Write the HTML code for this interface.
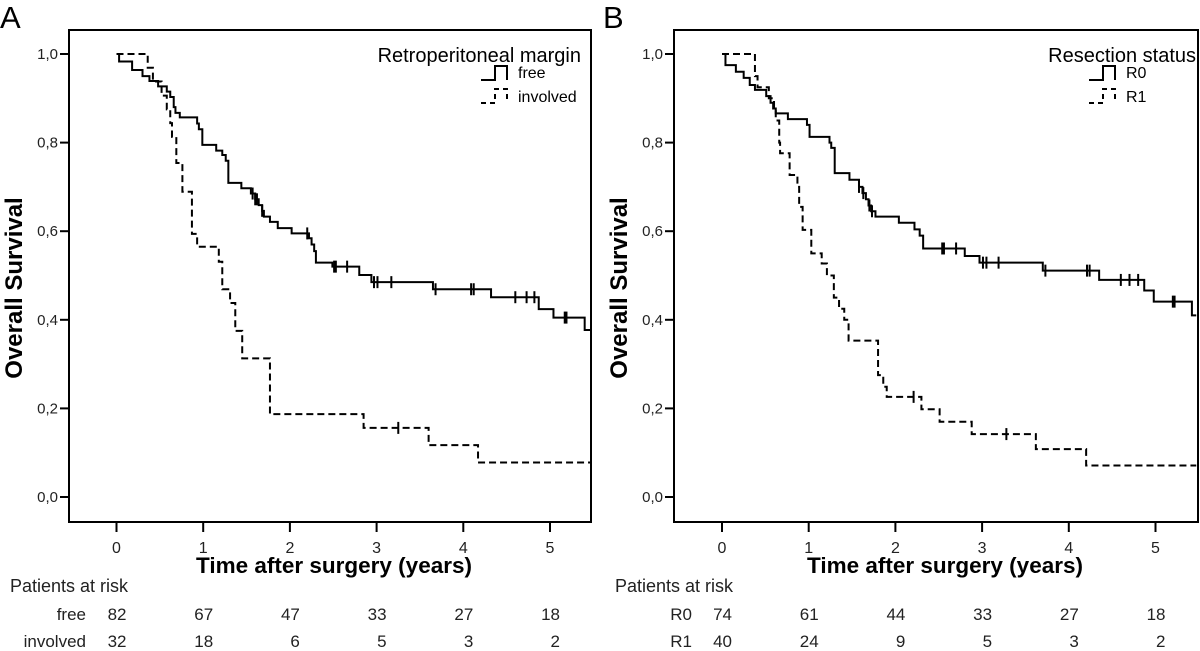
<!DOCTYPE html>
<html><head><meta charset="utf-8"><style>
html,body{margin:0;padding:0;background:#fff;}
svg{display:block;font-family:"Liberation Sans",Arial,sans-serif;}
</style></head><body>
<svg id="chart" width="1200" height="651" viewBox="0 0 1200 651" xmlns="http://www.w3.org/2000/svg"></svg>
<script>
// ---- Panel A data ----
const freeT = [0.03,0.18,0.30,0.38,0.48,0.58,0.62,0.66,0.68,0.73,0.93,0.95,0.99,1.15,1.22,1.26,1.29,1.44,1.55,1.60,1.64,1.68,1.70,1.77,1.86,2.02,2.22,2.25,2.28,2.30,2.49,2.80,2.94,3.65,4.32,4.87,5.04,5.40];
const freeS = [0.983,0.964,0.950,0.939,0.927,0.915,0.903,0.88,0.867,0.857,0.843,0.83,0.795,0.782,0.772,0.759,0.709,0.697,0.685,0.672,0.659,0.646,0.633,0.621,0.607,0.595,0.584,0.57,0.555,0.529,0.520,0.501,0.485,0.469,0.451,0.424,0.405,0.377];
const freeCens = [1.57,1.60,1.62,1.68,2.20,2.51,2.53,2.66,2.97,3.01,3.17,3.68,4.09,4.12,4.60,4.73,4.82,5.17,5.19];
const invT = [0.36,0.42,0.52,0.58,0.62,0.64,0.69,0.76,0.87,0.93,1.18,1.22,1.31,1.37,1.45,1.77,2.85,3.60,4.17];
const invS = [0.969,0.938,0.906,0.875,0.844,0.813,0.754,0.689,0.594,0.565,0.531,0.469,0.438,0.375,0.313,0.187,0.156,0.117,0.078];
const invCens = [3.25];
const riskTicks = [0,1,2,3,4,5];
const riskFree = [82,67,47,33,27,18];
const riskInv = [32,18,6,5,3,2];
// ---- Panel B data ----
const r0T = [0.04,0.16,0.25,0.32,0.38,0.51,0.56,0.59,0.62,0.76,0.98,1.01,1.24,1.26,1.30,1.47,1.58,1.62,1.66,1.69,1.72,1.77,2.04,2.22,2.28,2.32,2.80,2.97,3.70,4.35,4.87,4.98,5.42];
const r0S = [0.975,0.96,0.946,0.93,0.919,0.905,0.89,0.877,0.866,0.853,0.840,0.813,0.80,0.788,0.731,0.716,0.70,0.686,0.672,0.658,0.645,0.633,0.619,0.604,0.590,0.561,0.544,0.529,0.511,0.490,0.466,0.441,0.41];
const r0Cens = [1.58,1.63,1.70,1.73,2.54,2.56,2.70,3.01,3.05,3.19,3.73,4.21,4.24,4.60,4.70,4.80,5.20,5.22];
const r1T = [0.38,0.41,0.54,0.60,0.62,0.66,0.67,0.78,0.87,0.89,0.93,1.03,1.15,1.21,1.29,1.35,1.41,1.46,1.80,1.86,1.90,2.30,2.51,2.88,3.62,4.20];
const r1S = [0.95,0.925,0.90,0.875,0.85,0.80,0.776,0.727,0.70,0.655,0.603,0.55,0.527,0.50,0.45,0.425,0.40,0.353,0.275,0.249,0.226,0.198,0.170,0.142,0.108,0.071];
const r1Cens = [2.21,3.28];
const riskR0 = [74,61,44,33,27,18];
const riskR1 = [40,24,9,5,3,2];
const yTicks = [0,0.2,0.4,0.6,0.8,1.0];
const yTickLabels = ["0,0","0,2","0,4","0,6","0,8","1,0"];
const tMax = 5.47;

const NS = "http://www.w3.org/2000/svg";
const svg = document.getElementById('chart');
function mk(tag, attrs, parent, text){
  const e = document.createElementNS(NS, tag);
  for (const k in attrs) e.setAttribute(k, attrs[k]);
  if (text !== undefined) e.textContent = text;
  (parent||svg).appendChild(e);
  return e;
}

function panel(o){
  const g = mk('g', {});
  
  
  const x0 = o.x0, L = o.left, R = o.right, T = 30, B = 522;
  const xs = t => x0 + t*86.7;
  const ys = s => 497 - s*443;
  const lbl = mk('text', {x:o.letterX, y:28, 'font-size':31}, g, o.letter);
  
  
  const box = mk('rect', {x:L, y:T, width:R-L, height:B-T, fill:'none', stroke:'#000', 'stroke-width':2}, g);
  
  
  yTicks.forEach((v,i)=>{
    mk('line', {x1:L-9, x2:L, y1:ys(v), y2:ys(v), stroke:'#000', 'stroke-width':2}, g);
    const t = mk('text', {x:L-11, y:ys(v)+5, 'font-size':15, 'text-anchor':'end', fill:'#222'}, g, yTickLabels[i]);
    
    
  });
  riskTicks.forEach(v=>{
    mk('line', {x1:xs(v), x2:xs(v), y1:B, y2:B+10, stroke:'#000', 'stroke-width':2}, g);
    const t = mk('text', {x:xs(v), y:553, 'font-size':16, 'text-anchor':'middle', fill:'#222'}, g, String(v));
    
    
  });
  const xt = mk('text', {x:o.xTitleX, y:573, 'font-size':22.5, 'font-weight':'bold', 'text-anchor':'middle'}, g, 'Time after surgery (years)');
  
  
  const yt = mk('text', {x:0, y:0, 'font-size':24, 'font-weight':'bold', 'text-anchor':'middle', transform:`translate(${o.yTitleX},288) rotate(-90)`}, g, 'Overall Survival');
  
  

  function curve(T_, S_, C_, dashed, name, startT){
    let d = `M${xs(startT)},${ys(1)}`;
    let prev = 1;
    for (let i=0;i<T_.length;i++){
      d += ` L${xs(T_[i])},${ys(prev)} L${xs(T_[i])},${ys(S_[i])}`;
      prev = S_[i];
    }
    d += ` L${xs(tMax)},${ys(prev)}`;
    const p = mk('path', {d:d, fill:'none', stroke:'#000', 'stroke-width':2, 'stroke-dasharray': dashed?'7,4':'none'}, g);
    
    
    C_.forEach(c=>{
      let s = 1;
      for (let i=0;i<T_.length;i++) if (T_[i] <= c) s = S_[i];
      const m = mk('line', {x1:xs(c), x2:xs(c), y1:ys(s)-6, y2:ys(s)+6, stroke:'#000', 'stroke-width':2}, g);
      
      
    });
  }
  curve(o.aT, o.aS, o.aC, false, o.aName+'-curve', o.aT[0]);
  curve(o.bT, o.bS, o.bC, true, o.bName+'-curve', 0);

  // legend
  const lg = mk('g', {}, g);
  
  
  mk('text', {x:o.legRight, y:62, 'font-size':20, 'text-anchor':'end'}, lg, o.legTitle);
  const sx = o.legSymX;
  mk('path', {d:`M${sx},${80} L${sx+14},80 L${sx+14},66 L${sx+26},66 L${sx+26},80`, fill:'none', stroke:'#000', 'stroke-width':2}, lg);
  mk('path', {d:`M${sx},${103} L${sx+14},103 L${sx+14},89 L${sx+26},89 L${sx+26},103`, fill:'none', stroke:'#000', 'stroke-width':2, 'stroke-dasharray':'5,4'}, lg);
  const e1 = mk('text', {x:sx+37, y:78, 'font-size':16}, lg, o.aName);
  
  
  const e2 = mk('text', {x:sx+37, y:102, 'font-size':16}, lg, o.bName);
  
  

  // risk table
  const rt = mk('g', {}, g);
  
  
  mk('text', {x:o.riskX, y:592, 'font-size':18, fill:'#222'}, rt, 'Patients at risk');
  mk('text', {x:o.rowLblX, y:620, 'font-size':17, 'text-anchor':'end', fill:'#222'}, rt, o.aName);
  mk('text', {x:o.rowLblX, y:647, 'font-size':17, 'text-anchor':'end', fill:'#222'}, rt, o.bName);
  riskTicks.forEach((v,i)=>{
    mk('text', {x:xs(v)+10, y:620, 'font-size':17, 'text-anchor':'end', fill:'#222'}, rt, String(o.ra[i]));
    mk('text', {x:xs(v)+10, y:647, 'font-size':17, 'text-anchor':'end', fill:'#222'}, rt, String(o.rb[i]));
  });
}

panel({name:'panel-a', letter:'A', letterX:0, x0:116.5, left:69, right:591, xTitleX:334, yTitleX:22,
  aT:freeT, aS:freeS, aC:freeCens, bT:invT, bS:invS, bC:invCens, aName:'free', bName:'involved',
  legTitle:'Retroperitoneal margin', legRight:581, legSymX:481, riskX:10, rowLblX:86, ra:riskFree, rb:riskInv});
panel({name:'panel-b', letter:'B', letterX:603, x0:722, left:674, right:1198, xTitleX:945, yTitleX:627,
  aT:r0T, aS:r0S, aC:r0Cens, bT:r1T, bS:r1S, bC:r1Cens, aName:'R0', bName:'R1',
  legTitle:'Resection status', legRight:1196, legSymX:1089, riskX:615, rowLblX:692, ra:riskR0, rb:riskR1});
</script>
</body></html>
